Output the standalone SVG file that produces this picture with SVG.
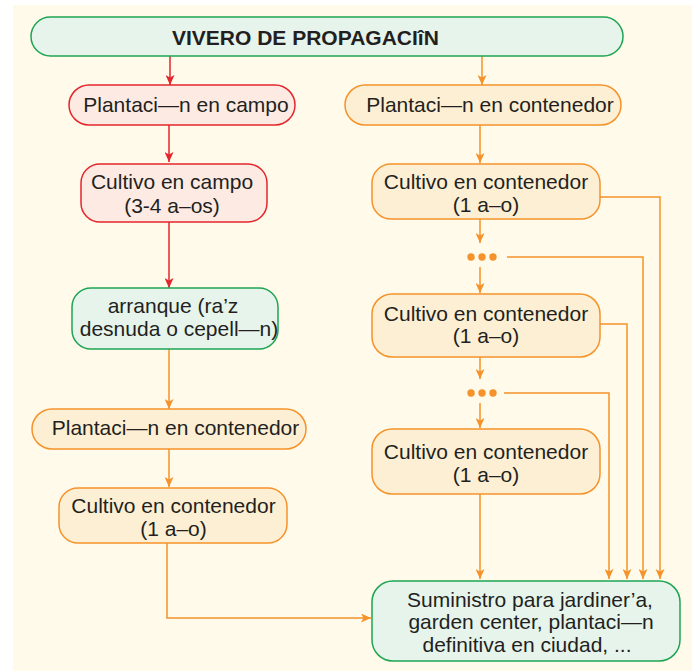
<svg xmlns="http://www.w3.org/2000/svg" width="692" height="671" viewBox="0 0 692 671">
<defs>
<style>
.t{font-family:"Liberation Sans",Arial,sans-serif;font-size:21px;fill:#231f20;text-anchor:middle}
.tb{font-family:"Liberation Sans",Arial,sans-serif;font-size:21px;font-weight:bold;fill:#231f20}
.red{fill:#fdebe3;stroke:#e3262d;stroke-width:1.5}
.org{fill:#fdefd3;stroke:#f5922a;stroke-width:1.5}
.grn{fill:#e6f4ec;stroke:#1ea553;stroke-width:1.5}
.lr{fill:none;stroke:#e3262d;stroke-width:1.5}
.lo{fill:none;stroke:#f5922a;stroke-width:1.5}
</style>
<marker id="ar" markerUnits="userSpaceOnUse" markerWidth="11" markerHeight="9" refX="10" refY="4.5" orient="auto" viewBox="0 0 11 9">
<path d="M0,0 L10,4.5 L0,9 L2.5,4.5 z" fill="#e3262d"/>
</marker>
<marker id="ao" markerUnits="userSpaceOnUse" markerWidth="11" markerHeight="9" refX="10" refY="4.5" orient="auto" viewBox="0 0 11 9">
<path d="M0,0 L10,4.5 L0,9 L2.5,4.5 z" fill="#f5922a"/>
</marker>
</defs>
<rect x="0" y="0" width="692" height="671" fill="#ffffff"/>
<rect x="13" y="5" width="679" height="666" fill="#fffae9"/>

<g id="connectors">
<path class="lr" d="M170,56 V85" marker-end="url(#ar)"/>
<path class="lo" d="M482,56 V85" marker-end="url(#ao)"/>
<path class="lr" d="M169,125 V162" marker-end="url(#ar)"/>
<path class="lr" d="M169,222 V288" marker-end="url(#ar)"/>
<path class="lo" d="M169,349 V409" marker-end="url(#ao)"/>
<path class="lo" d="M169,449 V487" marker-end="url(#ao)"/>
<path class="lo" d="M167,543 V618 H371" marker-end="url(#ao)"/>
<path class="lo" d="M480,125 V163" marker-end="url(#ao)"/>
<path class="lo" d="M480,219 V243" marker-end="url(#ao)"/>
<path class="lo" d="M480,267 V293" marker-end="url(#ao)"/>
<path class="lo" d="M480,357 V379" marker-end="url(#ao)"/>
<path class="lo" d="M480,403 V428" marker-end="url(#ao)"/>
<path class="lo" d="M480,494 V579" marker-end="url(#ao)"/>
<path class="lo" d="M600,197 H660 V579" marker-end="url(#ao)"/>
<path class="lo" d="M507,257 H643 V579" marker-end="url(#ao)"/>
<path class="lo" d="M600,324 H627 V579" marker-end="url(#ao)"/>
<path class="lo" d="M504,393 H609 V579" marker-end="url(#ao)"/>
</g>

<g id="dots1" fill="#f5922a">
<circle cx="471" cy="257" r="3.7"/><circle cx="482" cy="257" r="3.7"/><circle cx="493" cy="257" r="3.7"/>
</g>
<g id="dots2" fill="#f5922a">
<circle cx="471" cy="393" r="3.7"/><circle cx="482" cy="393" r="3.7"/><circle cx="493" cy="393" r="3.7"/>
</g>

<g id="vivero">
<rect class="grn" x="31" y="17" width="592" height="39" rx="19.5"/>
<text class="tb" x="172" y="45">VIVERO DE PROPAGACIîN</text>
</g>

<g id="plant-campo">
<rect class="red" x="69" y="85" width="226" height="40" rx="20"/>
<text class="t" x="186" y="112">Plantaci—n en campo</text>
</g>

<g id="plant-cont-r">
<rect class="org" x="345" y="85" width="276" height="40" rx="20"/>
<text class="t" x="490" y="112">Plantaci—n en contenedor</text>
</g>

<g id="cult-campo">
<rect class="red" x="81" y="164" width="186" height="58" rx="19"/>
<text class="t" x="172" y="189">Cultivo en campo</text>
<text class="t" x="172" y="213">(3-4 a–os)</text>
</g>

<g id="arranque">
<rect class="grn" x="72" y="288" width="206" height="61" rx="19"/>
<text class="t" x="173" y="313">arranque (ra’z</text>
<text class="t" x="179" y="336">desnuda o cepell—n)</text>
</g>

<g id="plant-cont-l">
<rect class="org" x="32" y="409" width="274" height="40" rx="20"/>
<text class="t" x="175.5" y="435">Plantaci—n en contenedor</text>
</g>

<g id="cult-cont-l">
<rect class="org" x="59" y="488" width="228" height="55" rx="19"/>
<text class="t" x="173.5" y="513">Cultivo en contenedor</text>
<text class="t" x="173.5" y="536">(1 a–o)</text>
</g>

<g id="cult-cont-r1">
<rect class="org" x="372" y="164" width="228" height="55" rx="19"/>
<text class="t" x="486" y="189">Cultivo en contenedor</text>
<text class="t" x="486" y="212">(1 a–o)</text>
</g>

<g id="cult-cont-r2">
<rect class="org" x="372" y="294" width="228" height="63" rx="20"/>
<text class="t" x="486" y="321">Cultivo en contenedor</text>
<text class="t" x="486" y="343">(1 a–o)</text>
</g>

<g id="cult-cont-r3">
<rect class="org" x="372" y="429" width="228" height="65" rx="20"/>
<text class="t" x="486" y="459">Cultivo en contenedor</text>
<text class="t" x="486" y="482">(1 a–o)</text>
</g>

<g id="suministro">
<rect class="grn" x="372" y="581" width="308" height="80" rx="21"/>
<text class="t" x="530" y="607">Suministro para jardiner’a,</text>
<text class="t" x="531" y="629">garden center, plantaci—n</text>
<text class="t" x="527" y="652">definitiva en ciudad, ...</text>
</g>
</svg>
